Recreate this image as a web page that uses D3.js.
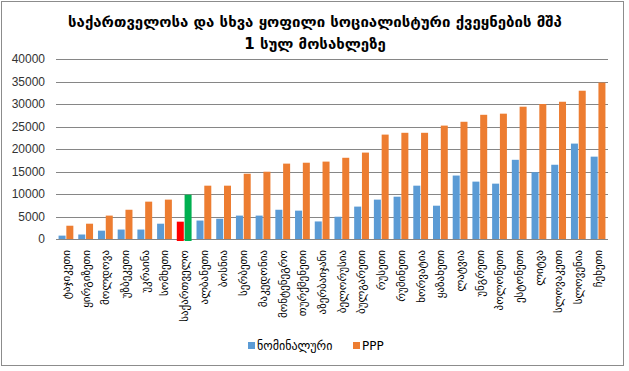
<!DOCTYPE html>
<html>
<head>
<meta charset="utf-8">
<script src="https://cdn.jsdelivr.net/npm/d3@7"></script>
<style>
  body { margin: 0; background: #fff; }
  svg text { font-family: "DejaVu Sans", sans-serif; }
</style>
</head>
<body>
<div id="chart"></div>
<script>
const width = 629;
const height = 371;

// Countries, sorted by PPP value
const countries = [
  'ტაჯიკეთი', 'ყირგიზეთი', 'მოლდოვა', 'უზბეკეთი', 'უკრაინა', 'სომხეთი',
  'საქართველო', 'ალბანეთი', 'ბოსნია', 'სერბეთი', 'მაკედონია', 'მონტენეგრო',
  'თურქმენეთი', 'აზერბაიჯანი', 'ბელორუსია', 'ბულგარეთი', 'რუსეთი', 'რუმინეთი',
  'ხორვატია', 'ყაზახეთი', 'ლატვია', 'უნგრეთი', 'პოლონეთი', 'ესტონეთი',
  'ლიტვა', 'სლოვაკეთი', 'სლოვენია', 'ჩეხეთი',
];
const nominal = [
  750, 1000, 1850, 2100, 2100, 3400, 3850, 4100, 4500, 5200, 5200, 6500,
  6300, 3900, 4950, 7200, 8750, 9400, 11850, 7400, 14100, 12750, 12300, 17600,
  14850, 16500, 21200, 18300,
];
const ppp = [
  2950, 3400, 5200, 6500, 8300, 8750, 9850, 11850, 11850, 14500, 14950, 16750,
  16950, 17200, 18050, 19200, 23200, 23600, 23600, 25200, 26050, 27600, 27850, 29400,
  30000, 30500, 32950, 34750,
];
const seriesNames = ['ნომინალური', 'PPP'];
const yTicks = [0, 5000, 10000, 15000, 20000, 25000, 30000, 35000, 40000];
const title = ['საქართველოსა და სხვა ყოფილი სოციალისტური ქვეყნების მშპ', '1 სულ მოსახლეზე'];
const highlight = 'საქართველო';

const colors = { nominal: '#5B9BD5', ppp: '#ED7D31' };
const hlColors = { nominal: '#FF0000', ppp: '#00B050' };

const margin = { top: 59, right: 21, bottom: 132, left: 56 };

const svg = d3.select('#chart').append('svg')
  .attr('width', width)
  .attr('height', height);

// Outer border
svg.append('rect')
  .attr('x', 1.5).attr('y', 1.5)
  .attr('width', 622).attr('height', 364)
  .attr('fill', '#fff')
  .attr('stroke', '#8c8c8c');

// Title
svg.append('g').selectAll('text')
  .data(title)
  .enter()
  .append('text')
  .attr('x', 315)
  .attr('y', (d, i) => 27 + i * 22)
  .attr('text-anchor', 'middle')
  .style('font-size', '15px')
  .style('font-weight', 'bold')
  .attr('fill', '#000')
  .text((d) => d);

const x = d3.scaleBand()
  .domain(countries)
  .range([margin.left, width - margin.right])
  .paddingInner(0.25)
  .paddingOuter(0.13);

const xSub = d3.scaleBand()
  .domain(['nominal', 'ppp'])
  .range([0, x.bandwidth()])
  .paddingInner(0.1);

const y = d3.scaleLinear()
  .domain([0, 40000])
  .range([height - margin.bottom, margin.top]);

// Gridlines
svg.append('g').selectAll('line')
  .data(yTicks)
  .enter()
  .append('line')
  .attr('x1', margin.left)
  .attr('x2', width - margin.right)
  .attr('y1', (d) => Math.round(y(d)) + 0.5)
  .attr('y2', (d) => Math.round(y(d)) + 0.5)
  .attr('stroke', '#868686')
  .attr('stroke-width', 1.2);

// Y axis labels
const yAxis = svg.append('g')
  .attr('transform', `translate(${margin.left - 11},0)`)
  .call(d3.axisLeft(y).tickValues(yTicks).tickSize(0).tickPadding(0).tickFormat(d3.format('d')));
yAxis.select('.domain').remove();
yAxis.selectAll('text')
  .style('font-family', '"Liberation Sans", sans-serif')
  .style('font-size', '12px')
  .attr('fill', '#333');

// Bars
const rows = countries.map((c, i) => ({ country: c, nominal: nominal[i], ppp: ppp[i] }));
const groups = svg.append('g').selectAll('g')
  .data(rows)
  .enter()
  .append('g')
  .attr('transform', (d) => `translate(${x(d.country)},0)`);

groups.selectAll('rect')
  .data((d) => ['nominal', 'ppp'].map((k) => ({ key: k, value: d[k], hl: d.country === highlight })))
  .enter()
  .append('rect')
  .attr('x', (d) => xSub(d.key))
  .attr('width', xSub.bandwidth())
  .attr('y', (d) => y(d.value))
  .attr('height', (d) => y(0) - y(d.value) + (d.hl ? 2 : 0))
  .attr('fill', (d) => (d.hl ? hlColors[d.key] : colors[d.key]));

// X axis
const xAxis = svg.append('g')
  .attr('transform', `translate(0,${y(0)})`)
  .call(d3.axisBottom(x).tickSize(0).tickPadding(0));
xAxis.select('.domain').remove();
xAxis.selectAll('text')
  .attr('transform', 'rotate(-90)')
  .attr('text-anchor', 'end')
  .attr('x', -11)
  .attr('y', 0)
  .attr('dy', '0.35em')
  .style('font-size', '11px')
  .attr('fill', '#000');

// Legend
const legend = svg.append('g').attr('transform', 'translate(248,346)');
const legendX = [0, 105];
seriesNames.forEach((name, i) => {
  const g = legend.append('g').attr('transform', `translate(${legendX[i]},0)`);
  g.append('rect')
    .attr('x', 0).attr('y', -4)
    .attr('width', 7).attr('height', 7)
    .attr('fill', i === 0 ? colors.nominal : colors.ppp);
  g.append('text')
    .attr('x', 9)
    .attr('y', 0)
    .attr('dy', '0.35em')
    .style('font-size', '12px')
    .attr('fill', '#000')
    .text(name);
});
</script>
</body>
</html>
